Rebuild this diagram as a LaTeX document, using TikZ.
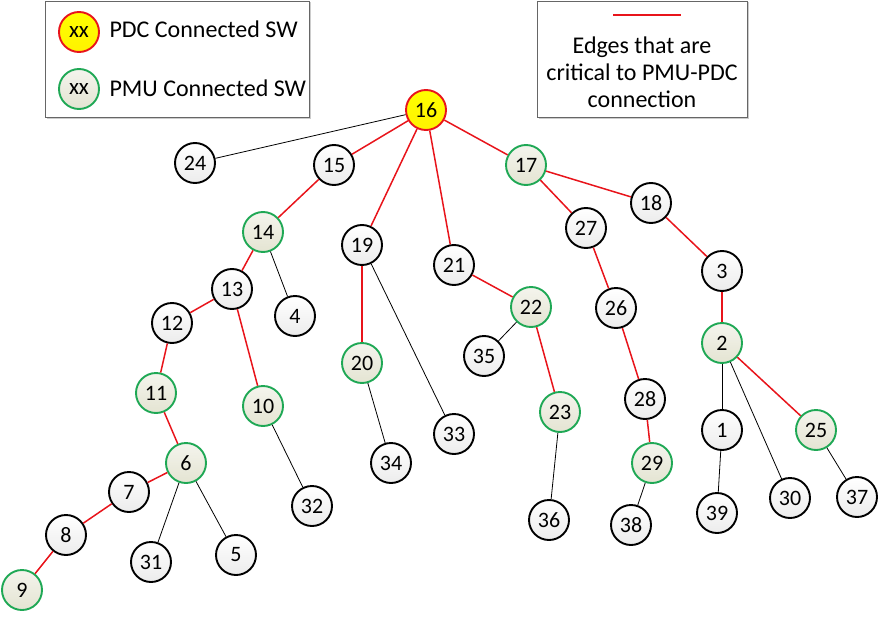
\documentclass[tikz,border=0pt]{standalone}
\usepackage{fontspec}
\setmainfont{Carlito}
\usepackage{xcolor}
\usepackage{tikz}
\usetikzlibrary{shadows}

\definecolor{pmugreen}{HTML}{1FA855}
\definecolor{pmufill}{HTML}{E4E4D2}
\definecolor{critred}{HTML}{E8141B}

\begin{document}
\begin{tikzpicture}[x=1pt, y=-1pt,
            sw/.style={draw, circle, line width=1.9pt, minimum size=40pt, inner sep=0pt,
                       top color=white, bottom color=gray!15, font=\fontsize{22}{24}\selectfont},
            pmu/.style={sw, draw=pmugreen, top color=pmufill!40, bottom color=pmufill},
            pdc/.style={sw, draw=critred, top color=yellow, bottom color=yellow!90!orange},
            legendbox/.style={draw=gray!80!black, line width=0.8pt, fill=white,
                              drop shadow={shadow xshift=1.5pt, shadow yshift=-1.5pt, opacity=0.4}},
            crit/.style={draw=critred, line width=1.5pt},
            link/.style={draw=black, line width=0.8pt}
            ]

            \useasboundingbox (0,0) rectangle (883,618);

            % Legends
            \node[legendbox, minimum width=264pt, minimum height=116pt] (leg1) at (177,59) {};
            \node[pdc, font=\fontsize{23}{25}\selectfont] (legpdc) at (79,32) {xx};
            \node[pmu, font=\fontsize{23}{25}\selectfont] (legpmu) at (79,89) {xx};
            \node[anchor=west, font=\fontsize{24}{28}\selectfont] (txtpdc) at (106,29) {PDC Connected SW};
            \node[anchor=west, font=\fontsize{24}{28}\selectfont] (txtpmu) at (106,88) {PMU Connected SW};

            \node[legendbox, minimum width=210pt, minimum height=116pt] (leg2) at (642,59) {};
            \coordinate (redl) at (613,15);
            \coordinate (redr) at (681,15);
            \draw[crit] (redl) -- (redr);
            \node[align=center, font=\fontsize{24}{27}\selectfont] (txtcrit) at (642,72)
                {Edges that are\\critical to PMU-PDC\\connection};

            % Nodes with manual coordinates
            \node[pdc] (n16) at (426,110) {16};
            \node[sw]  (n24) at (195,163) {24};
            \node[sw]  (n15) at (334,165) {15};
            \node[pmu] (n17) at (526,165) {17};
            \node[sw]  (n18) at (651,203) {18};
            \node[pmu] (n14) at (263,232) {14};
            \node[sw]  (n19) at (362,245) {19};
            \node[sw]  (n21) at (454,265) {21};
            \node[sw]  (n27) at (586,228) {27};
            \node[sw]  (n3)  at (722,271) {3};
            \node[sw]  (n13) at (232,289) {13};
            \node[sw]  (n4)  at (295,316) {4};
            \node[pmu] (n22) at (531,307) {22};
            \node[sw]  (n26) at (616,308) {26};
            \node[sw]  (n12) at (172,323) {12};
            \node[pmu] (n2)  at (722,343) {2};
            \node[sw]  (n35) at (484,356) {35};
            \node[pmu] (n20) at (362,363) {20};
            \node[pmu] (n11) at (156,393) {11};
            \node[pmu] (n10) at (263,406) {10};
            \node[sw]  (n28) at (645,399) {28};
            \node[sw]  (n1)  at (722,430) {1};
            \node[pmu] (n25) at (816,430) {25};
            \node[pmu] (n23) at (560,412) {23};
            \node[sw]  (n33) at (454,434) {33};
            \node[pmu] (n6)  at (186,463) {6};
            \node[pmu] (n29) at (652,463) {29};
            \node[sw]  (n7)  at (129,492) {7};
            \node[sw]  (n34) at (391,463) {34};
            \node[sw]  (n32) at (312,506) {32};
            \node[sw]  (n30) at (790,498) {30};
            \node[sw]  (n37) at (857,497) {37};
            \node[sw]  (n39) at (717,513) {39};
            \node[sw]  (n36) at (549,520) {36};
            \node[sw]  (n38) at (631,525) {38};
            \node[sw]  (n8)  at (66,535) {8};
            \node[sw]  (n31) at (151,562) {31};
            \node[sw]  (n5)  at (236,555) {5};
            \node[pmu] (n9)  at (22,590) {9};

            % Edges critical to PMU-PDC connection
            \foreach \a/\b in {16/15, 16/19, 16/21, 16/17, 15/14, 14/13, 13/12, 13/10,
                               12/11, 11/6, 6/7, 7/8, 8/9, 19/20, 21/22, 22/23,
                               17/27, 17/18, 27/26, 26/28, 28/29, 18/3, 3/2, 2/25}
                \draw[crit] (n\a) -- (n\b);

            % Other edges
            \foreach \a/\b in {16/24, 14/4, 6/31, 6/5, 10/32, 19/33, 20/34, 22/35,
                               23/36, 29/38, 2/1, 2/30, 1/39, 25/37}
                \draw[link] (n\a) -- (n\b);
        \end{tikzpicture}
\end{document}
